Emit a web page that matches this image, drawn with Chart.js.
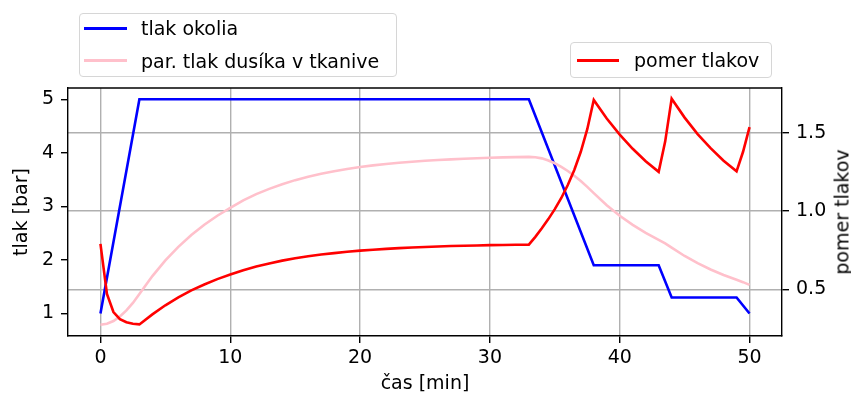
<!DOCTYPE html>
<html>
<head>
<meta charset="utf-8">
<title>tlak okolia a dusík v tkanive</title>
<script src="https://cdn.jsdelivr.net/npm/chart.js@4.4.1/dist/chart.umd.min.js"></script>
<style>
  body { margin: 0; background: #fff; }
  #wrap { position: relative; width: 851px; height: 394px; font-family: "DejaVu Sans", sans-serif; font-size: 19px; color: #000; }
  .legend { position: absolute; background: rgba(255,255,255,0.8); border: 1px solid #d6d6d6; border-radius: 4px; box-sizing: border-box; }
  .swatch { position: absolute; height: 3px; margin-top: -1.5px; }
  .lbl { position: absolute; transform: translateY(-50%); white-space: nowrap; line-height: 1; }
  #rightTitle { position: absolute; left: 842px; top: 212px; transform: translate(-50%, -50%) rotate(-90deg); white-space: nowrap; line-height: 1; }
</style>
</head>
<body>
<div id="wrap">
  <canvas id="chart" width="851" height="394"></canvas>
  <div id="legLeft" class="legend" style="left:79px;top:13px;width:318px;height:64px"></div>
  <div id="legRight" class="legend" style="left:570px;top:42px;width:202px;height:36px"></div>
  <div id="rightTitle">pomer tlakov</div>
</div>
<script>
/* ================= DATA ================= */
// profil ponoru: čas [min] a tlak okolia [bar]
const ambientTime = [0, 3, 33, 38, 43, 44, 49, 50];
const ambientPressure = [1.0, 5.0, 5.0, 1.9, 1.9, 1.3, 1.3, 1.0];

// tkanivo: čas [min], par. tlak dusíka [bar], pomer tlakov
const tissueTime = [0, 0.5, 1, 1.5, 2, 2.5, 3, 4, 5, 6, 7, 8, 9, 10, 11, 12, 13, 14, 15, 16, 17, 18, 19, 20,
  21, 22, 23, 24, 25, 26, 27, 28, 29, 30, 31, 32, 33, 33.5, 34, 34.5, 35, 35.5, 36, 36.5, 37, 37.5, 38,
  39, 40, 41, 42, 43, 43.5, 44, 45, 46, 47, 48, 49, 49.5, 50];
const tissueN2 = [0.790, 0.808, 0.860, 0.944, 1.057, 1.198, 1.365, 1.699, 1.991, 2.244, 2.465, 2.657, 2.825, 2.970,
  3.112, 3.228, 3.327, 3.413, 3.490, 3.554, 3.609, 3.657, 3.699, 3.735, 3.765, 3.791, 3.813, 3.833, 3.851,
  3.865, 3.878, 3.889, 3.899, 3.908, 3.915, 3.920, 3.925, 3.918, 3.896, 3.857, 3.805, 3.738, 3.660, 3.571,
  3.472, 3.364, 3.248, 3.022, 2.825, 2.654, 2.504, 2.375, 2.308, 2.230, 2.074, 1.939, 1.821, 1.718, 1.629,
  1.585, 1.535];
const pressureRatio = [0.790, 0.470, 0.355, 0.310, 0.290, 0.280, 0.276, 0.340, 0.398, 0.449, 0.493, 0.531, 0.565,
  0.594, 0.622, 0.646, 0.665, 0.683, 0.698, 0.711, 0.722, 0.731, 0.740, 0.747, 0.753, 0.758, 0.763, 0.767,
  0.770, 0.773, 0.776, 0.778, 0.780, 0.782, 0.783, 0.784, 0.785, 0.835, 0.890, 0.948, 1.012, 1.083, 1.166,
  1.262, 1.378, 1.522, 1.709, 1.590, 1.487, 1.397, 1.318, 1.250, 1.443, 1.716, 1.596, 1.491, 1.401, 1.321,
  1.253, 1.378, 1.535];

const xTicks = [0, 10, 20, 30, 40, 50];
const leftTicks = [1, 2, 3, 4, 5];
const rightTicks = [0.5, 1.0, 1.5];

/* ================= HELPERS ================= */
function pts(xs, ys){
    return xs.map((x, i) => ({ x: x, y: ys[i] }));
}

// horny okraj grafu (matplotlib ma ramik dookola)
const frameTop = {
    id: 'frameTop',
    afterDraw(chart){
        const { ctx, chartArea: a } = chart;
        ctx.save();
        ctx.strokeStyle = '#000';
        ctx.lineWidth = 1.4;
        ctx.beginPath();
        ctx.moveTo(a.left, a.top);
        ctx.lineTo(a.right, a.top);
        ctx.stroke();
        ctx.restore();
    }
};

Chart.defaults.font.family = '"DejaVu Sans", sans-serif';
Chart.defaults.font.size = 19;
Chart.defaults.color = '#000';

const gridOpts = { color: '#b0b0b0', lineWidth: 1.4, tickColor: '#000', tickLength: 7, tickWidth: 1.4 };

/* ================= CHART ================= */
const chart = new Chart(document.getElementById('chart'), {
    type: 'line',
    data: {
        datasets: [
            {
                label: 'tlak okolia',
                data: pts(ambientTime, ambientPressure),
                borderColor: '#0000ff',
                yAxisID: 'yL',
                order: 2
            },
            {
                label: 'par. tlak dusíka v tkanive',
                data: pts(tissueTime, tissueN2),
                borderColor: '#ffc0cb',
                yAxisID: 'yL',
                order: 1
            },
            {
                label: 'pomer tlakov',
                data: pts(tissueTime, pressureRatio),
                borderColor: '#ff0000',
                yAxisID: 'yR',
                order: 0
            }
        ]
    },
    options: {
        responsive: false,
        animation: false,
        devicePixelRatio: 1,
        layout: { padding: { top: 88, left: 0, right: 0, bottom: 0 } },
        elements: {
            point: { radius: 0 },
            line: { borderWidth: 2.6, tension: 0, fill: false }
        },
        plugins: { legend: { display: false }, tooltip: { enabled: false } },
        scales: {
            x: {
                type: 'linear',
                min: -2.5,
                max: 52.5,
                afterBuildTicks: s => { s.ticks = xTicks.map(v => ({ value: v })); },
                afterFit: s => { s.height = 58; },
                grid: gridOpts,
                border: { color: '#000', width: 1.4 },
                ticks: { padding: 4, callback: v => String(v) },
                title: { display: true, text: 'čas [min]', padding: 0, font: { lineHeight: 1 } }
            },
            yL: {
                type: 'linear',
                position: 'left',
                min: 0.58,
                max: 5.21,
                afterBuildTicks: s => { s.ticks = leftTicks.map(v => ({ value: v })); },
                afterFit: s => { s.width = 68; },
                grid: Object.assign({}, gridOpts, { drawOnChartArea: false }),
                border: { color: '#000', width: 1.4 },
                ticks: { padding: 7, callback: v => String(v) },
                title: { display: true, text: 'tlak [bar]', padding: { top: 12.5, bottom: 0 }, font: { lineHeight: 1 } }
            },
            yR: {
                type: 'linear',
                position: 'right',
                min: 0.202,
                max: 1.785,
                afterBuildTicks: s => { s.ticks = rightTicks.map(v => ({ value: v })); },
                afterFit: s => { s.width = 69; },
                grid: gridOpts,
                border: { color: '#000', width: 1.4 },
                ticks: { padding: 7, callback: v => v.toFixed(1) }
            }
        }
    },
    plugins: [frameTop]
});

/* ================= LEGENDS ================= */
function buildLegend(boxId, items, rowYs, swLeft, swWidth, txtLeft){
    const box = document.getElementById(boxId);
    items.forEach((idx, i) => {
        const ds = chart.data.datasets[idx];
        const sw = document.createElement('div');
        sw.className = 'swatch';
        sw.style.left = swLeft + 'px';
        sw.style.top = rowYs[i] + 'px';
        sw.style.width = swWidth + 'px';
        sw.style.background = ds.borderColor;
        const t = document.createElement('div');
        t.className = 'lbl';
        t.style.left = txtLeft + 'px';
        t.style.top = rowYs[i] + 'px';
        t.textContent = ds.label;
        box.appendChild(sw);
        box.appendChild(t);
    });
}
buildLegend('legLeft', [0, 1], [14, 46.5], 4, 43, 61);
buildLegend('legRight', [2], [17], 6, 42, 63);
</script>
</body>
</html>
